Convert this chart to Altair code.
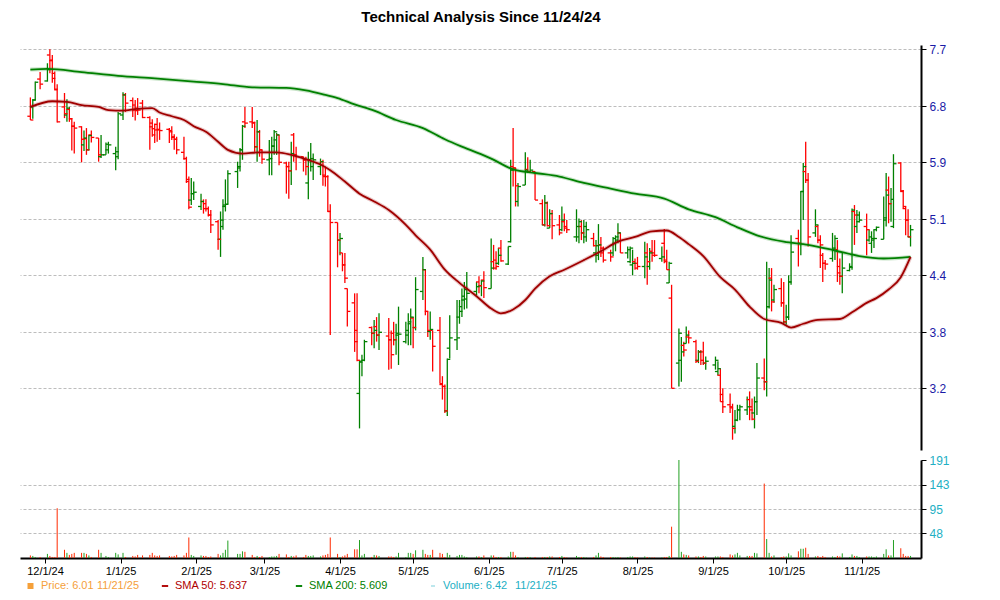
import altair as alt
import pandas as pd

TITLE = "Technical Analysis Since 11/24/24"

# Market holidays inside the period (no bars on these days)
HOLIDAYS = ["2024-11-28", "2024-12-25", "2025-01-01", "2025-01-09", "2025-01-20",
            "2025-02-17", "2025-04-18", "2025-05-26", "2025-06-19", "2025-07-04",
            "2025-09-01"]

# Daily bars (open, high, low, close), one list per month
nov24 = [(6.64,6.94,6.58,6.58),(6.79,6.91,6.60,6.90),(6.90,7.19,6.89,7.18),(7.23,7.34,7.07,7.15)]
dec24 = [(7.20,7.48,7.19,7.38),(7.61,7.70,7.32,7.53),(7.52,7.61,7.17,7.24),(7.32,7.35,7.06,7.07),
         (7.06,7.15,6.54,6.55),(6.79,7.01,6.61,6.68),(6.66,6.91,6.55,6.77),(6.75,6.79,6.55,6.60),
         (6.60,6.61,6.09,6.48),(6.48,6.55,6.04,6.45),(6.47,6.48,5.90,6.27),(6.18,6.41,6.08,6.29),
         (6.28,6.45,6.02,6.10),(6.10,6.34,6.09,6.33),(6.34,6.41,6.22,6.30),(6.29,6.29,5.91,6.02),
         (5.99,6.34,5.97,6.02),(6.02,6.22,6.02,6.19),(6.10,6.23,6.04,6.18),(6.04,6.15,5.79,6.07),
         (5.99,6.71,5.95,6.68)]
jan25 = [(6.66,7.02,6.58,6.98),(6.98,7.01,6.71,6.85),(6.89,6.94,6.63,6.74),(6.82,6.90,6.57,6.73),
         (6.77,6.93,6.66,6.74),(6.85,6.90,6.61,6.62),(6.62,6.64,6.10,6.53),(6.47,6.59,6.31,6.34),
         (6.44,6.52,6.21,6.42),(6.51,6.61,6.23,6.42),(6.43,6.54,6.26,6.41),(6.43,6.45,6.21,6.39),
         (6.41,6.48,6.26,6.31),(6.30,6.35,6.10,6.27),(6.27,6.31,6.03,6.10),(6.06,6.31,5.94,5.96),
         (5.96,5.99,5.61,5.66),(5.63,5.70,5.24,5.27),(5.37,5.68,5.30,5.46),(5.46,5.63,5.37,5.48)]
feb25 = [(5.28,5.46,5.23,5.35),(5.35,5.38,5.18,5.25),(5.32,5.38,5.21,5.25),(5.25,5.28,5.14,5.16),
         (5.16,5.23,4.93,5.03),(5.07,5.09,4.72,4.85),(4.85,5.21,4.63,5.09),(5.01,5.38,4.97,5.30),
         (5.28,5.66,5.21,5.31),(5.31,5.79,5.31,5.74),(5.77,5.91,5.54,5.84),(5.82,6.13,5.77,6.10),
         (6.10,6.50,5.94,6.48),(6.55,6.79,6.45,6.53),(6.55,6.79,6.45,6.54),(6.53,6.55,6.07,6.15),
         (6.15,6.58,5.91,6.39),(6.39,6.42,5.99,6.10),(6.10,6.10,5.88,5.95)]
mar25 = [(5.94,6.26,5.72,5.96),(5.96,6.31,5.72,6.16),(6.16,6.42,6.02,6.39),(6.26,6.37,6.02,6.34),
         (6.34,6.34,5.86,5.90),(5.89,5.91,5.46,5.84),(5.84,5.91,5.39,5.78),(5.78,6.23,5.58,6.04),
         (6.34,6.37,5.91,6.02),(6.02,6.15,5.79,5.99),(5.99,5.99,5.77,5.94),(5.94,5.99,5.72,5.84),
         (5.61,6.07,5.38,5.94),(5.94,6.21,5.77,5.96),(5.84,6.04,5.65,5.94),(5.84,5.96,5.72,5.91),
         (5.91,5.94,5.57,5.70),(5.72,5.84,5.56,5.70),(5.70,5.72,5.21,5.21),(5.21,5.31,3.77,5.06),
         (5.06,5.06,4.50,4.84)]
apr25 = [(4.84,4.93,4.65,4.86),(4.68,4.68,4.45,4.53),(4.53,4.68,4.32,4.37),(4.26,4.26,3.86,4.02),
         (4.11,4.21,3.59,3.70),(3.82,4.21,3.49,3.50),(3.15,3.49,2.81,3.48),(3.49,3.56,3.33,3.50),
         (3.50,3.72,3.49,3.70),(3.85,3.86,3.66,3.79),(3.79,3.93,3.63,3.82),(3.86,3.96,3.70,3.77),
         (3.77,4.00,3.61,3.80),(3.76,3.95,3.40,3.72),(3.72,3.82,3.41,3.56),(3.79,3.91,3.66,3.72),
         (3.72,3.89,3.56,3.79),(3.77,4.07,3.45,3.78),(3.70,3.91,3.68,3.82),(3.77,4.00,3.66,3.91),
         (3.89,4.05,3.66,3.96)]
may25 = [(3.95,3.96,3.63,3.85),(3.85,4.38,3.82,4.25),(4.23,4.63,4.14,4.47),(4.47,4.48,3.98,4.02),
         (4.02,4.02,3.75,3.82),(3.81,4.02,3.72,3.83),(3.82,3.82,3.38,3.65),(3.82,3.96,3.25,3.25),
         (3.24,3.33,3.09,3.22),(3.22,3.24,2.96,2.98),(2.98,3.52,2.93,3.51),(3.63,3.98,3.52,3.74),
         (3.72,4.14,3.61,3.74),(3.96,4.14,3.89,4.02),(4.07,4.26,3.96,4.18),(4.14,4.33,4.04,4.25),
         (4.15,4.44,4.05,4.21),(4.23,4.33,4.19,4.28),(4.33,4.39,4.21,4.29),(4.29,4.35,4.18,4.34),
         (4.35,4.45,4.16,4.27)]
jun25 = [(4.26,4.86,4.26,4.49),(4.57,4.78,4.47,4.49),(4.59,4.70,4.47,4.51),(4.55,4.74,4.53,4.65),
         (4.74,4.84,4.57,4.58),(4.54,4.76,4.53,4.76),(4.82,5.94,4.81,5.79),(5.84,6.45,5.56,5.82),
         (5.82,5.82,5.28,5.57),(5.35,5.61,5.28,5.56),(5.58,6.06,5.58,5.79),(5.80,5.98,5.75,5.77),
         (5.77,5.94,5.75,5.79),(5.77,5.77,5.37,5.37),(5.32,5.38,5.03,5.03),(5.03,5.44,5.01,5.33),
         (5.33,5.35,5.01,5.02),(4.99,5.24,4.99,5.18),(5.18,5.23,4.85,5.02),(5.03,5.16,4.90,4.93)]
jul25 = [(4.97,5.28,4.95,5.09),(5.07,5.18,4.95,4.99),(5.01,5.09,4.93,4.97),(4.88,5.24,4.82,5.01),
         (4.88,5.11,4.80,5.07),(5.01,5.09,4.84,4.93),(4.93,5.09,4.80,5.01),(4.88,5.07,4.82,4.97),
         (4.86,4.93,4.76,4.77),(4.68,4.84,4.56,4.77),(4.65,5.04,4.59,4.78),(4.78,4.88,4.63,4.68),
         (4.74,4.76,4.56,4.59),(4.68,4.72,4.57,4.63),(4.68,4.88,4.64,4.86),(4.80,4.90,4.70,4.88),
         (4.84,5.05,4.80,4.93),(4.93,4.93,4.68,4.68),(4.68,4.76,4.61,4.72),(4.57,4.76,4.55,4.74),
         (4.53,4.72,4.40,4.55),(4.57,4.61,4.47,4.49)]
aug25 = [(4.55,4.63,4.47,4.51),(4.51,4.82,4.37,4.63),(4.68,4.80,4.30,4.57),(4.51,4.74,4.47,4.68),
         (4.70,4.84,4.57,4.65),(4.68,4.84,4.63,4.65),(4.61,4.76,4.57,4.63),(4.80,4.98,4.55,4.57),
         (4.59,4.72,4.47,4.47),(4.32,4.57,4.32,4.55),(4.16,4.30,3.20,3.20),(3.47,3.84,3.22,3.79),
         (3.50,3.75,3.27,3.59),(3.66,3.70,3.54,3.61),(3.68,3.86,3.68,3.77),(3.75,3.82,3.68,3.74),
         (3.70,3.72,3.47,3.49),(3.50,3.61,3.47,3.59),(3.59,3.61,3.45,3.50),(3.59,3.70,3.45,3.47),
         (3.47,3.54,3.40,3.49)]
sep25 = [(3.45,3.54,3.40,3.50),(3.38,3.49,3.34,3.41),(3.34,3.41,3.07,3.07),(3.14,3.20,2.96,3.02),
         (3.04,3.15,2.96,3.01),(3.02,3.05,2.70,2.81),(2.83,2.99,2.76,2.89),(2.89,3.04,2.88,2.99),
         (2.99,3.04,2.89,3.02),(2.99,3.12,2.94,3.02),(3.09,3.17,2.89,2.99),(3.02,3.10,2.89,2.90),
         (2.96,3.12,2.81,3.07),(3.07,3.47,2.94,3.31),(3.31,3.52,3.18,3.27),(3.27,4.57,3.12,4.07),
         (4.07,4.49,4.05,4.35),(4.37,4.49,4.02,4.12),(4.14,4.30,4.11,4.25),(4.26,4.37,4.07,4.11),
         (4.11,4.33,3.89,3.91)]
oct25 = [(3.91,4.09,3.88,3.96),(3.96,4.40,3.93,4.33),(4.33,4.90,4.30,4.69),(4.86,4.97,4.51,4.80),
         (4.80,5.49,4.65,5.49),(5.49,5.89,5.09,5.84),(5.77,6.23,5.61,5.65),(5.65,5.75,4.76,4.88),
         (4.93,5.24,4.88,5.03),(5.01,5.03,4.80,4.84),(4.84,4.90,4.49,4.78),(4.65,4.68,4.33,4.55),
         (4.55,4.59,4.47,4.54),(4.61,4.93,4.57,4.74),(4.72,4.90,4.59,4.86),(4.72,4.84,4.33,4.43),
         (4.51,4.61,4.30,4.39),(4.39,4.68,4.21,4.49),(4.46,4.55,4.45,4.50),(4.51,5.25,4.47,5.23),
         (5.21,5.30,4.78,5.16),(5.01,5.23,4.93,5.16),(5.07,5.21,5.06,5.09)]
nov25 = [(5.01,5.18,4.65,4.97),(4.84,4.97,4.82,4.88),(4.80,4.95,4.68,4.86),(4.84,4.97,4.74,4.86),
         (4.97,5.01,4.95,5.00),(4.85,5.42,4.85,5.12),(5.09,5.75,5.01,5.44),(5.51,5.70,5.05,5.32),
         (5.32,5.54,5.07,5.38),(5.01,6.03,4.99,5.88),(5.89,5.90,5.49,5.50),(5.49,5.51,5.25,5.28),
         (5.25,5.28,4.90,5.09),(5.09,5.24,4.88,4.88),(4.88,5.03,4.76,4.97)]

# Daily volume, one list per month
vol_nov24 = [5,4,2,2]
vol_dec24 = [8,4,2,2,97,16,10,6,8,10,10,10,8,5,2,16,10,4,2,10,7]
vol_jan25 = [10,2,4,3,6,5,6,10,5,4,5,4,3,4,6,5,10,40,6,4]
vol_feb25 = [5,4,4,2,3,8,5,10,16,34,8,8,13,12,6,2,4,2,4]
vol_mar25 = [2,3,3,4,8,7,2,4,3,5,2,6,4,4,5,3,5,6,8,40,8]
vol_apr25 = [2,3,5,8,17,17,35,5,8,2,6,5,4,3,3,2,3,10,2,10,10]
vol_may25 = [8,15,16,8,6,6,16,10,8,2,10,6,4,6,6,3,2,3,3,2,5]
vol_jun25 = [5,5,2,2,2,3,12,12,5,2,2,2,2,2,2,2,2,3,3,2]
vol_jul25 = [4,2,1,4,2,2,2,1,2,5,10,3,2,2,2,1,2,1,2,3,3,2]
vol_aug25 = [1,3,2,1,1,1,1,2,2,4,61,191,12,7,6,5,3,3,2,4,3]
vol_sep25 = [3,3,3,2,7,5,7,10,5,4,4,4,10,9,145,37,10,3,5,2,3]
vol_oct25 = [3,9,5,13,18,18,20,8,3,4,2,4,2,3,2,4,3,9,2,7,4,4,2]
vol_nov25 = [3,3,3,2,3,8,17,5,5,35,19,8,4,4,4]

# Moving averages
sma50_dates = ["2024-11-25","2024-12-04","2024-12-10","2024-12-16","2024-12-23","2024-12-27",
               "2025-01-02","2025-01-08","2025-01-14","2025-01-17","2025-01-22","2025-01-27",
               "2025-01-31","2025-02-05","2025-02-10","2025-02-14","2025-02-20","2025-02-27",
               "2025-03-06","2025-03-12","2025-03-18","2025-03-24","2025-03-28","2025-04-03",
               "2025-04-09","2025-04-15","2025-04-21","2025-04-28","2025-05-02","2025-05-08",
               "2025-05-14","2025-05-20","2025-05-27","2025-06-02","2025-06-06","2025-06-11",
               "2025-06-16","2025-06-20","2025-06-26","2025-07-02","2025-07-10","2025-07-17",
               "2025-07-24","2025-07-31","2025-08-07","2025-08-13","2025-08-18","2025-08-22",
               "2025-08-28","2025-09-04","2025-09-10","2025-09-16","2025-09-22","2025-09-29",
               "2025-10-03","2025-10-08","2025-10-14","2025-10-23","2025-10-28","2025-11-03",
               "2025-11-07","2025-11-12","2025-11-17","2025-11-21"]
sma50 = [6.79,6.88,6.87,6.82,6.79,6.74,6.73,6.76,6.77,6.70,6.64,6.58,6.48,6.39,6.23,6.10,
         6.04,6.06,6.06,6.02,5.95,5.87,5.79,5.63,5.46,5.35,5.23,5.03,4.90,4.72,4.47,4.32,
         4.18,4.05,4.00,4.04,4.14,4.26,4.39,4.47,4.59,4.70,4.82,4.88,4.95,4.96,4.88,4.79,
         4.64,4.38,4.25,4.07,3.94,3.90,3.85,3.89,3.93,3.94,4.01,4.11,4.16,4.25,4.38,4.63]
sma200_dates = ["2024-11-25","2024-12-02","2024-12-16","2024-12-31","2025-01-15","2025-01-31",
                "2025-02-12","2025-02-24","2025-03-10","2025-03-18","2025-03-25","2025-03-31",
                "2025-04-07","2025-04-15","2025-04-24","2025-05-05","2025-05-14","2025-05-23",
                "2025-06-02","2025-06-11","2025-06-20","2025-06-30","2025-07-10","2025-07-21",
                "2025-07-31","2025-08-12","2025-08-22","2025-09-02","2025-09-11","2025-09-19",
                "2025-09-30","2025-10-10","2025-10-21","2025-10-31","2025-11-10","2025-11-21"]
sma200 = [7.38,7.39,7.34,7.28,7.24,7.19,7.15,7.10,7.09,7.05,6.99,6.93,6.83,6.73,6.58,6.45,
          6.27,6.12,5.96,5.80,5.75,5.70,5.61,5.53,5.46,5.39,5.24,5.13,5.00,4.90,4.82,4.78,
          4.71,4.64,4.61,4.63]

PRICE_TICKS = [3.2, 3.8, 4.4, 5.1, 5.9, 6.8, 7.7]
VOLUME_TICKS = [48, 95, 143, 191]
MONTH_TICKS = [(2024, 12)] + [(2025, m) for m in range(1, 12)]
LEGEND = ["Price: 6.01", "11/21/25", "SMA 50: 5.637", "SMA 200: 5.609", "Volume: 6.42", "11/21/25"]

# ---------------------------------------------------------------------------
ohlc = nov24 + dec24 + jan25 + feb25 + mar25 + apr25 + may25 + jun25 + jul25 + aug25 + sep25 + oct25 + nov25
volume = (vol_nov24 + vol_dec24 + vol_jan25 + vol_feb25 + vol_mar25 + vol_apr25 + vol_may25 +
          vol_jun25 + vol_jul25 + vol_aug25 + vol_sep25 + vol_oct25 + vol_nov25)
dates = pd.bdate_range("2024-11-25", "2025-11-21", freq="C", holidays=HOLIDAYS)
assert len(dates) == len(ohlc) == len(volume), (len(dates), len(ohlc), len(volume))

bars = pd.DataFrame(ohlc, columns=["open", "high", "low", "close"])
bars["date"] = dates
bars["volume"] = volume
s50 = pd.DataFrame({"date": pd.to_datetime(sma50_dates), "value": sma50})
s200 = pd.DataFrame({"date": pd.to_datetime(sma200_dates), "value": sma200})

GREEN, RED = "#008000", "#FF0000"
VGREEN, VRED = "#22A022", "#FF2A00"
FONT = "Liberation Sans"

W, H = 901, 513
x_scale = alt.Scale(domain=[alt.DateTime(year=2024, month=11, date=20, hours=18),
                            alt.DateTime(year=2025, month=11, date=25, hours=7)], nice=False)
x_axis = alt.Axis(values=[alt.DateTime(year=y, month=m, date=1) for y, m in MONTH_TICKS],
                  format="%-m/%-d/%y", title=None, grid=False, domainColor="black", domainWidth=2,
                  tickColor="black", tickSize=5, labelFont=FONT, labelFontSize=11,
                  labelColor="black", labelPadding=2, labelFlush=False)
X = alt.X("date:T", scale=x_scale, axis=x_axis)

price_scale = alt.Scale(domain=[2.6] + PRICE_TICKS + [7.77],
                        range=[405, 343.3, 287.3, 230.3, 174.3, 117.3, 61.3, 4.3, 0],
                        zero=False, nice=False)
price_axis = alt.Axis(orient="right", values=PRICE_TICKS, format=".1f", title=None,
                      grid=True, gridColor="#BDBDBD", gridDash=[3, 2], gridWidth=1,
                      domainColor="black", domainWidth=2, tickColor="black", tickSize=5,
                      labelFont=FONT, labelFontSize=12, labelColor="#1A1AA6", labelPadding=3)
vol_scale = alt.Scale(domain=[0, 191], range=[513, 415], zero=True, nice=False)
vol_axis = alt.Axis(orient="right", values=VOLUME_TICKS, format="d", title=None,
                    grid=True, gridColor="#BDBDBD", gridDash=[3, 2], gridWidth=1,
                    gridOpacity={"condition": {"test": "datum.value > 150", "value": 0}, "value": 1},
                    domainColor="black", domainWidth=2, tickColor="black", tickSize=5,
                    labelFont=FONT, labelFontSize=12, labelColor="#22AFC4", labelPadding=3)

up_color = alt.condition("datum.close >= datum.open", alt.value(GREEN), alt.value(RED))
vol_color = alt.condition("datum.close >= datum.open", alt.value(VGREEN), alt.value(VRED))

def price_y(field):
    return alt.Y(f"{field}:Q", scale=price_scale, axis=price_axis)

base = alt.Chart(bars)
hilo = base.mark_rule(strokeWidth=1.3).encode(x=X, y=price_y("low"), y2="high:Q", color=up_color)
opn = base.mark_rule(strokeWidth=1.3, xOffset=-3, x2Offset=0).encode(
    x=X, x2="date:T", y=price_y("open"), color=up_color)
cls = base.mark_rule(strokeWidth=1.3, xOffset=0, x2Offset=3).encode(
    x=X, x2="date:T", y=price_y("close"), color=up_color)

def sma_lines(df, color):
    halo = alt.Chart(df).mark_line(color=color, strokeWidth=4, opacity=0.22,
                                   interpolate="monotone").encode(x=X, y=price_y("value"))
    core = alt.Chart(df).mark_line(color=color, strokeWidth=1.8,
                                   interpolate="monotone").encode(x=X, y=price_y("value"))
    return halo, core

h200, c200 = sma_lines(s200, "#008000")
h50, c50 = sma_lines(s50, "#A00000")
price_layer = alt.layer(hilo, opn, cls, h200, c200, h50, c50)

vol_layer = base.mark_rule(strokeWidth=1).encode(
    x=X, y=alt.Y("volume:Q", scale=vol_scale, axis=vol_axis), y2=alt.datum(0), color=vol_color)

def text_at(label, px, py, color, size=11, bold=False, align="left"):
    return alt.Chart(pd.DataFrame({"label": [label]})).mark_text(
        font=FONT, fontSize=size, fontWeight="bold" if bold else "normal", color=color,
        align=align, baseline="middle").encode(text="label:N", x=alt.value(px), y=alt.value(py))

def symbol_at(px, py, color, shape, size):
    return alt.Chart(pd.DataFrame({"k": [0]})).mark_point(
        shape=shape, filled=True, color=color, size=size, opacity=1, strokeWidth=0).encode(
        x=alt.value(px), y=alt.value(py))

LY = 541
decor = [
    text_at(TITLE, 461, -28, "black", size=15, bold=True, align="center"),
    symbol_at(10.5, LY, "#F5A03A", "square", 36),
    text_at(LEGEND[0], 21, LY, "#F5A03A"),
    text_at(LEGEND[1], 77, LY, "#F5A03A"),
    symbol_at(145, LY, "#B00000", "M-1,-0.3H1V0.3H-1Z", 40),
    text_at(LEGEND[2], 155, LY, "#B00000"),
    symbol_at(279, LY, "#008000", "M-1,-0.3H1V0.3H-1Z", 40),
    text_at(LEGEND[3], 289, LY, "#008000"),
    symbol_at(413, LY, "#22AFC4", "M-1,-0.15H1V0.15H-1Z", 16),
    text_at(LEGEND[4], 423, LY, "#22AFC4"),
    text_at(LEGEND[5], 495, LY, "#22AFC4"),
]

chart = alt.layer(price_layer, vol_layer, *decor).resolve_scale(y="independent").properties(
    width=W, height=H,
    autosize=alt.AutoSizeParams(type="none"),
    padding={"left": 12, "top": 37, "right": 60, "bottom": 34},
    background="white",
).configure_view(stroke=None)

chart.save("out.html", embed_options={"renderer": "svg", "actions": False})
